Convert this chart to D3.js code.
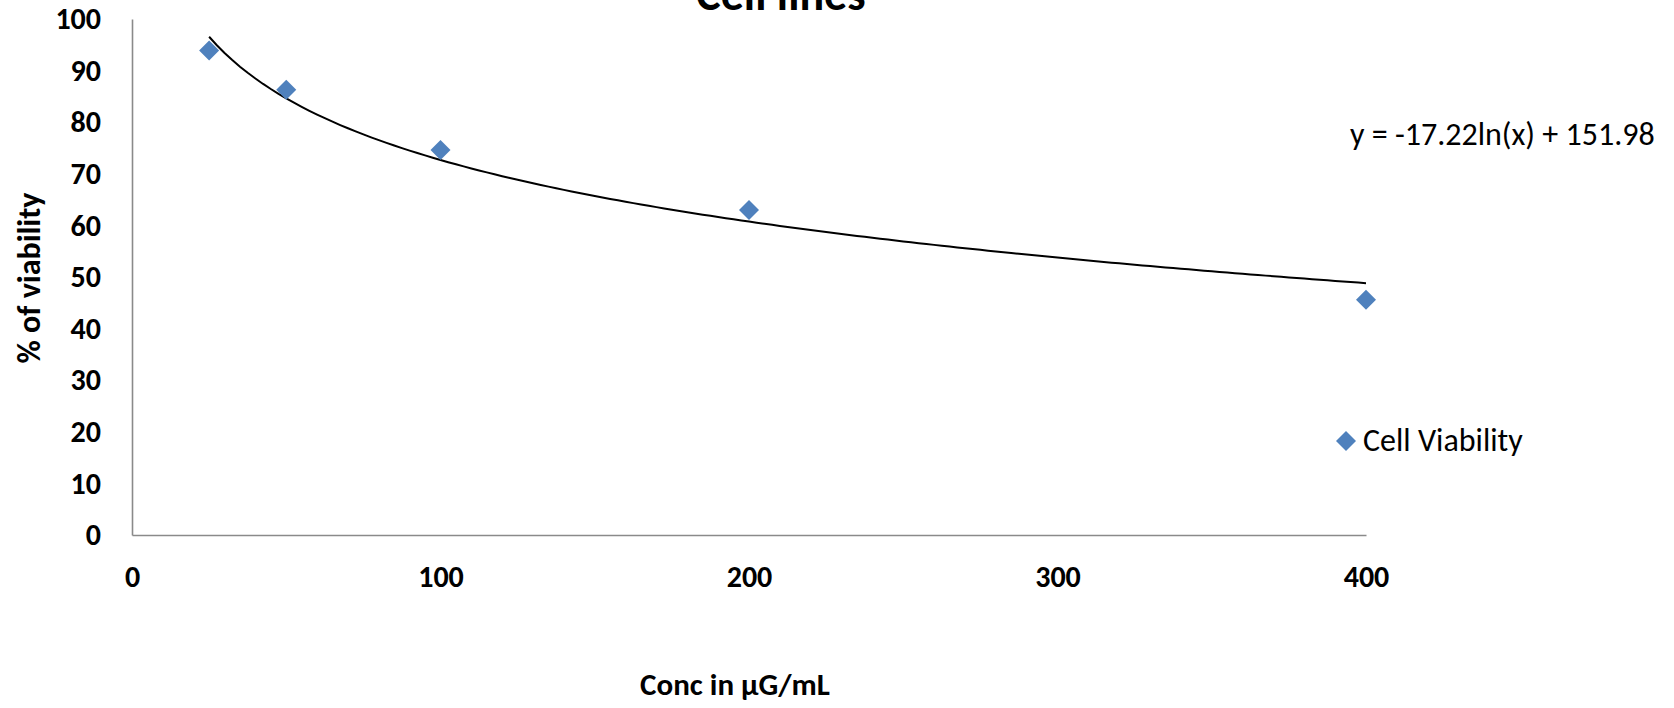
<!DOCTYPE html>
<html>
<head>
<meta charset="utf-8">
<script src="https://cdn.jsdelivr.net/npm/d3@7"></script>
<style>
  body { margin: 0; background: #fff; }
  svg { display: block; }
  svg text { font-family: Carlito, Calibri, 'Liberation Sans', Arial, sans-serif; }
</style>
</head>
<body>
<svg id="chart"></svg>
<script>
// cell viability readings
const conc = [25, 50, 100, 200, 400];
const viability = [93.9, 86.3, 74.6, 63.0, 45.6];
const xTicks = [0, 100, 200, 300, 400];
const yTicks = [0, 10, 20, 30, 40, 50, 60, 70, 80, 90, 100];
// excel log trendline, as printed on the chart
const trendSlope = -17.22;
const trendIntercept = 151.98;
const trendLabel = 'y = -17.22ln(x) + 151.98';

const width = 1674;
const height = 708;
const margin = { top: 19, right: 308, bottom: 173, left: 132 };
const innerW = width - margin.left - margin.right;
const innerH = height - margin.top - margin.bottom;

const svg = d3.select('#chart')
    .attr('width', width)
    .attr('height', height);

const g = svg.append('g')
    .attr('transform', `translate(${margin.left},${margin.top})`);

const x = d3.scaleLinear().domain([0, 400]).range([0, innerW]);
const y = d3.scaleLinear().domain([0, 100]).range([innerH, 0]);

// axes
const yAxis = g.append('g')
    .call(d3.axisLeft(y).tickValues(yTicks).tickSize(0).tickPadding(31));
const xAxis = g.append('g')
    .attr('transform', `translate(0,${innerH})`)
    .call(d3.axisBottom(x).tickValues(xTicks).tickSize(0).tickPadding(52));

[yAxis, xAxis].forEach((ax) => {
    ax.attr('font-family', null).attr('font-size', null);
    ax.select('.domain').attr('stroke', '#8a8a8a').attr('stroke-width', 1.6);
    ax.selectAll('text')
        .attr('fill', '#000')
        .style('font-size', '30px')
        .style('font-weight', 'bold');
});
xAxis.selectAll('text').attr('dy', 0);

// trendline
const trendX = d3.range(25, 400.01, 2.5);
const line = d3.line()
    .x((d) => x(d))
    .y((d) => y(trendSlope * Math.log(d) + trendIntercept));
g.append('path')
    .datum(trendX)
    .attr('d', line)
    .attr('fill', 'none')
    .attr('stroke', '#000')
    .attr('stroke-width', 2);

// points
const diamond = d3.symbol().type(d3.symbolSquare).size(200);
g.selectAll('path.pt')
    .data(conc)
    .enter()
    .append('path')
    .attr('class', 'pt')
    .attr('d', diamond)
    .attr('transform', (d, i) => `translate(${x(d)},${y(viability[i])}) rotate(45)`)
    .attr('fill', '#4f81bd');

// equation
svg.append('text')
    .attr('x', 1350)
    .attr('y', 145)
    .style('font-size', '32px')
    .text(trendLabel);

// legend
svg.append('path')
    .attr('d', diamond)
    .attr('transform', 'translate(1346,441) rotate(45)')
    .attr('fill', '#4f81bd');
svg.append('text')
    .attr('x', 1363)
    .attr('y', 451)
    .style('font-size', '32px')
    .text('Cell Viability');

// titles
svg.append('text')
    .attr('x', 781)
    .attr('y', 10)
    .attr('text-anchor', 'middle')
    .style('font-size', '46px')
    .style('font-weight', 'bold')
    .text('Cell lines');

svg.append('text')
    .attr('x', 735)
    .attr('y', 695)
    .attr('text-anchor', 'middle')
    .style('font-size', '31px')
    .style('font-weight', 'bold')
    .text('Conc in µG/mL');

svg.append('text')
    .attr('transform', 'translate(40,278) rotate(-90)')
    .attr('text-anchor', 'middle')
    .style('font-size', '32px')
    .style('font-weight', 'bold')
    .text('% of viability');
</script>
</body>
</html>
